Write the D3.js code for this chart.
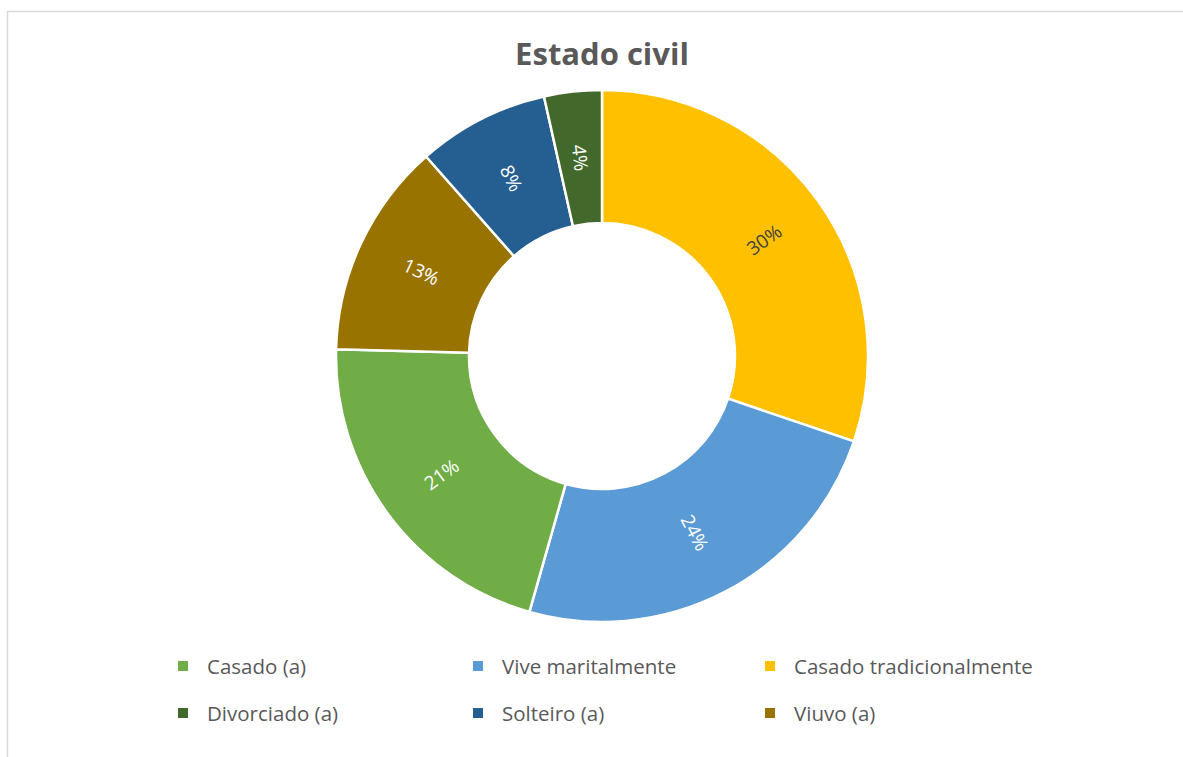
<!DOCTYPE html>
<html><head><meta charset="utf-8">
<script src="https://cdn.jsdelivr.net/npm/d3@7"></script>
<style>body{margin:0;background:#fff;}svg{display:block;}</style>
</head><body>
<svg id="c" width="1183" height="757"></svg>
<script>
// Slices in drawing order (clockwise from 12 o'clock)
const categories = ["Casado tradicionalmente","Vive maritalmente","Casado (a)","Viuvo (a)","Solteiro (a)","Divorciado (a)"];
const values = [30.2, 24.2, 21.0, 13.1, 8.0, 3.5];
const colors = ["#FFC000","#5B9BD5","#70AD47","#997300","#255E91","#43682B"];
const labelColors = ["#404040","#ffffff","#ffffff","#ffffff","#ffffff","#ffffff"];
// Legend order
const legendOrder = ["Casado (a)","Vive maritalmente","Casado tradicionalmente","Divorciado (a)","Solteiro (a)","Viuvo (a)"];
const title = "Estado civil";

const svg = d3.select("#c");
const font = "'Open Sans', sans-serif";

// frame
svg.append("rect").attr("x",7.5).attr("y",11.5).attr("width",1200).attr("height",800)
  .attr("fill","#fff").attr("stroke","#d9d9d9").attr("stroke-width",1.5);

svg.append("text").attr("x",602).attr("y",65).attr("text-anchor","middle")
  .attr("font-family",font).attr("font-weight","bold").attr("font-size",31)
  .attr("fill","#595959").text(title);

const cx = 602, cy = 356, rOuter = 266, rInner = 133;
const g = svg.append("g").attr("transform",`translate(${cx},${cy})`);
const pie = d3.pie().sort(null).value(d=>d.v);
const data = categories.map((c,i)=>({c, v:values[i], col:colors[i], lc:labelColors[i]}));
const arcs = pie(data);
const arc = d3.arc().innerRadius(rInner).outerRadius(rOuter);
g.selectAll("path").data(arcs).join("path")
  .attr("d",arc).attr("fill",d=>d.data.col).attr("stroke","#fff").attr("stroke-width",2.5);

const total = d3.sum(values);
const labelArc = d3.arc().innerRadius((rInner+rOuter)/2).outerRadius((rInner+rOuter)/2);
g.selectAll("text.lbl").data(arcs).join("text").attr("class","lbl")
  .attr("transform",d=>{
    const [x,y] = labelArc.centroid(d);
    const mid = (d.startAngle+d.endAngle)/2*180/Math.PI;
    let rot = mid-90; if(rot>90) rot-=180;
    return `translate(${x},${y}) rotate(${rot})`;
  })
  .attr("text-anchor","middle").attr("dominant-baseline","central")
  .attr("font-family",font).attr("font-size",19)
  .attr("fill",d=>d.data.lc)
  .text(d=>Math.round(d.data.v/total*100)+"%");

// legend
const colX = [178, 473, 765];
const rowY = [666, 713];
const lg = svg.append("g");
legendOrder.forEach((name,i)=>{
  const col = i%3, row = Math.floor(i/3);
  const c = colors[categories.indexOf(name)];
  lg.append("rect").attr("x",colX[col]).attr("y",rowY[row]-5).attr("width",10).attr("height",10).attr("fill",c);
  lg.append("text").attr("x",colX[col]+29).attr("y",rowY[row]).attr("dominant-baseline","central")
    .attr("font-family",font).attr("font-size",20.5).attr("fill","#595959").text(name);
});
</script>
</body></html>
